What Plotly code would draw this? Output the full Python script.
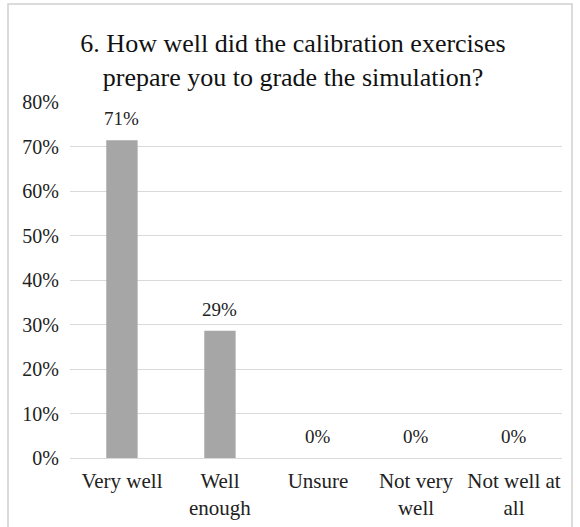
import plotly.graph_objects as go

categories = ["Very well", "Well<br>enough", "Unsure", "Not very<br>well", "Not well at<br>all"]
values = [0.714, 0.286, 0.0, 0.0, 0.0]
value_labels = ["71%", "29%", "0%", "0%", "0%"]
y_ticks = [0, 0.1, 0.2, 0.3, 0.4, 0.5, 0.6, 0.7, 0.8]

W, H = 580, 527
L, R, T, B = 70, 18, 102, 69
pw, ph = W - L - R, H - T - B

FONT = "Liberation Serif"

fig = go.Figure()
fig.add_trace(go.Bar(
    x=categories, y=values, width=0.32,
    marker=dict(color="#a6a6a6", line=dict(width=0)),
    hoverinfo="skip",
))

for c, v, t in zip(categories, values, value_labels):
    fig.add_annotation(x=c, y=v, text=t, showarrow=False, yanchor="bottom",
                       yshift=9, font=dict(family=FONT, size=19, color="#222"))

def px_x(p):
    return (p - L) / pw

def px_y(p):
    return (H - B - p) / ph

fig.add_shape(type="rect", xref="paper", yref="paper",
              x0=px_x(8), x1=px_x(572), y0=px_y(540), y1=px_y(4),
              line=dict(color="#d0d0d0", width=1.5), fillcolor="rgba(0,0,0,0)", layer="below")

fig.update_layout(
    width=W, height=H,
    margin=dict(l=L, r=R, t=T, b=B, autoexpand=False),
    paper_bgcolor="white", plot_bgcolor="white",
    showlegend=False,
    title=dict(text="6. How well did the calibration exercises<br>prepare you to grade the simulation?",
               x=293 / W, xanchor="center", y=1 - 52 / H, yanchor="middle",
               font=dict(family=FONT, size=26, color="#111")),
    font=dict(family=FONT, size=20, color="#222"),
)
fig.update_yaxes(range=[0, 0.8], tickvals=y_ticks, tickformat=".0%",
                 showgrid=True, gridcolor="#d9d9d9", gridwidth=1,
                 zeroline=True, zerolinecolor="#d9d9d9", zerolinewidth=1,
                 showline=False, ticks="", ticklabelstandoff=10, automargin=False,
                 tickfont=dict(family=FONT, size=20, color="#222"))
fig.update_xaxes(range=[-0.53, 4.49], showline=False, ticks="", tickangle=0,
                 ticklabelstandoff=8, automargin=False,
                 tickfont=dict(family=FONT, size=21, color="#222"))

fig.write_html("out.html", config={"displayModeBar": False},
               post_script="document.body.style.margin='0';")
